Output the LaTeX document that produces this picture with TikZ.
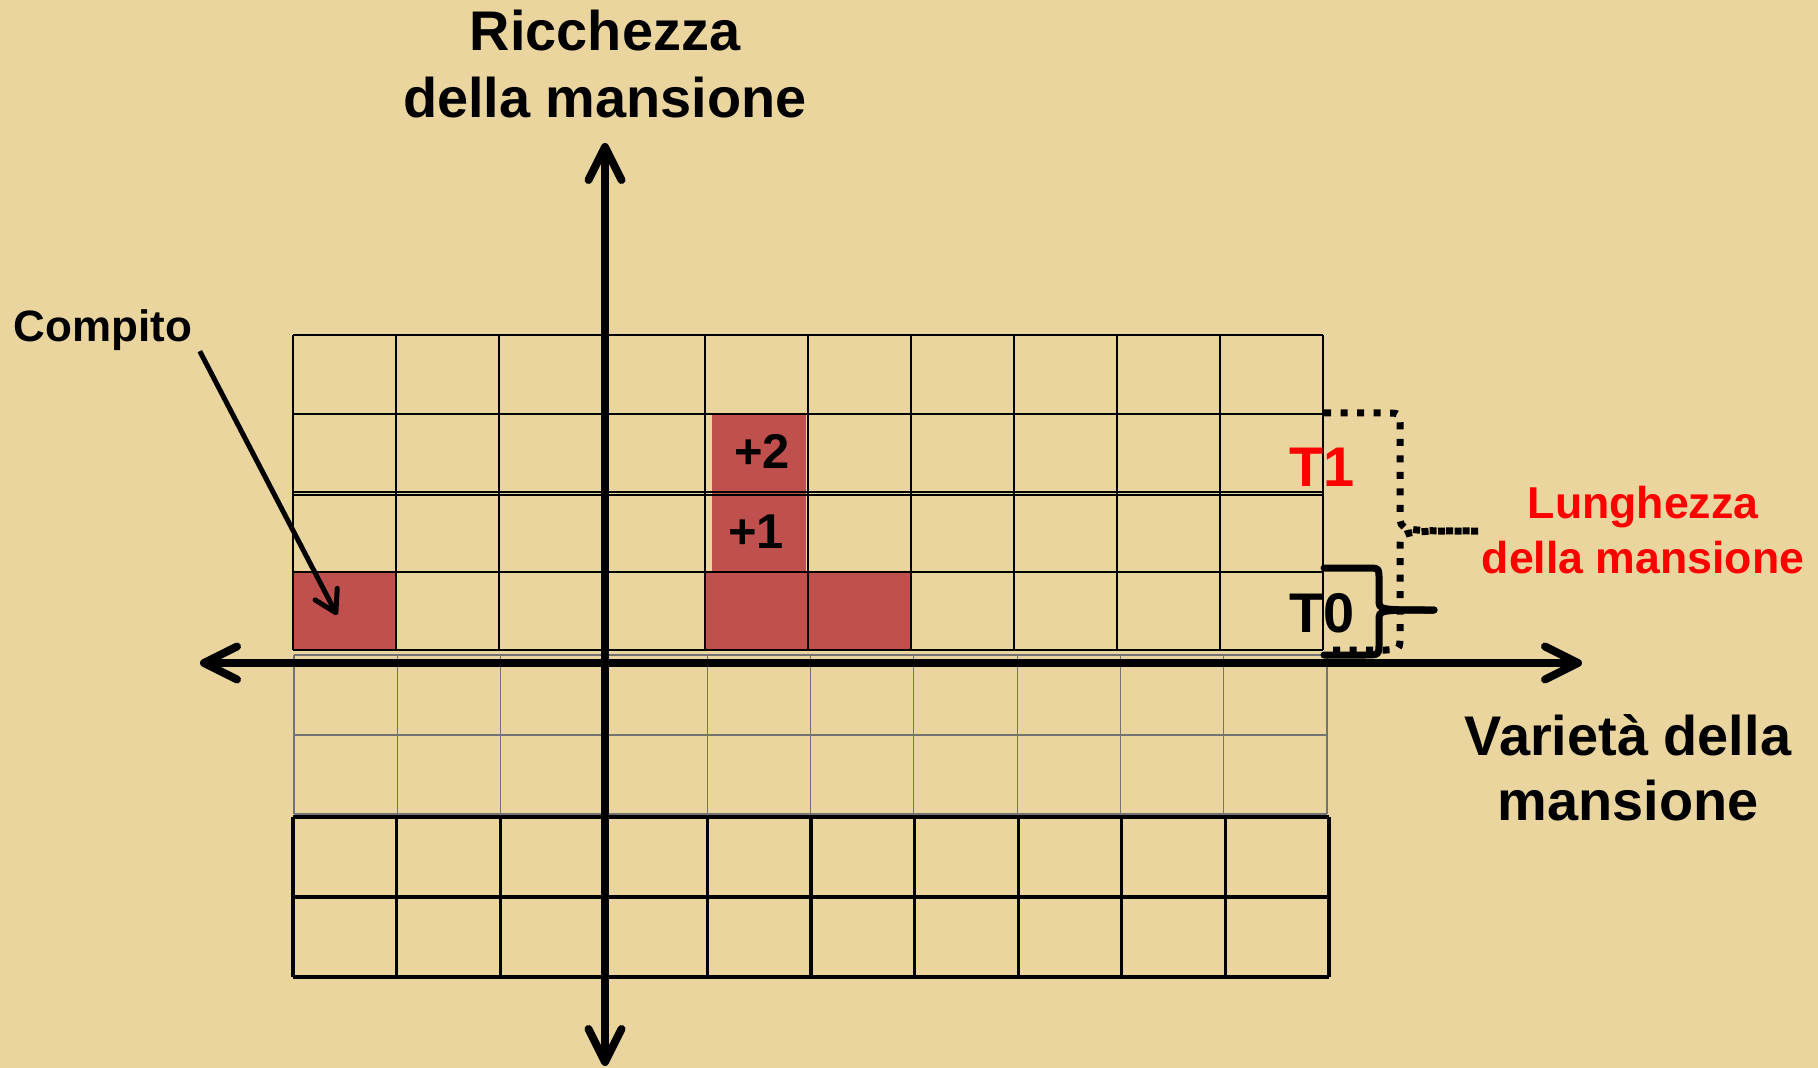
\documentclass[tikz,border=0pt]{standalone}
\usepackage{fontspec}
\setmainfont{Liberation Sans}
\usetikzlibrary{arrows.meta}

\definecolor{papyrus}{RGB}{234,213,158}
\definecolor{taskred}{RGB}{192,80,77}

\begin{document}
\begin{tikzpicture}[x=0.1mm, y=-0.1mm,
  barb/.tip={Straight Barb[length=3.3mm, width=3.3mm, round]},
  axis/.style={line width=0.8mm, barb-barb},
  gridline/.style={line width=0.27mm},
  faintline/.style={line width=0.12mm, black!55},
  lowline/.style={line width=0.32mm},
  dotbrace/.style={line width=0.7mm, dash pattern=on 0.7mm off 0.95mm},
  solidbrace/.style={line width=0.7mm, line cap=round},
  pointer/.style={line width=0.5mm, -{Straight Barb[length=2.1mm, width=2.5mm, round]}},
  bigtext/.style={inner sep=0pt, align=center, font=\bfseries\fontsize{15.9pt}{19.3pt}\selectfont},
  celltext/.style={inner sep=0pt, font=\bfseries\fontsize{13.9pt}{16pt}\selectfont}]
  \useasboundingbox (0,0) rectangle (1818,1068);
  \fill[papyrus] (0,0) rectangle (1818,1068);

  \coordinate (W) at (200,663);
  \coordinate (E) at (1582,663);
  \coordinate (N) at (605,143);
  \coordinate (S) at (605,1066);
  \coordinate (T1top) at (1324,413);
  \coordinate (T1bot) at (1324,650);
  \coordinate (T1tip) at (1478,531);
  \coordinate (T0top) at (1324,568);
  \coordinate (T0bot) at (1324,655);
  \coordinate (T0tip) at (1434,610);
  \coordinate (Ctip) at (337,615);

  % red cells
  \fill[taskred] (293,572) rectangle (396,650);
  \fill[taskred] (706,572) rectangle (911,650);
  \fill[taskred] (712,413) rectangle (806,572);

  % upper grid (two blocks)
  \foreach \i in {0,...,10}
    \draw[gridline] (293+103*\i,335) -- (293+103*\i,650);
  \foreach \j in {335,414,492,495,572,650}
    \draw[gridline] (293,\j) -- (1323,\j);
  % faint rows under the axis
  \foreach \i in {0,...,10}
    \draw[faintline] (294+103.3*\i,655) -- (294+103.3*\i,814);
  \foreach \j in {655,735,814}
    \draw[faintline] (294,\j) -- (1327,\j);
  % lower grid
  \foreach \i in {0,...,10}
    \draw[lowline] (293+103.6*\i,817) -- (293+103.6*\i,977);
  \foreach \j in {817,897,977}
    \draw[lowline] (293,\j) -- (1329,\j);

  \draw[axis] (W) -- (E);
  \draw[axis] (S) -- (N);

  % braces
  \draw[dotbrace] (T1top) -- (1386,413) .. controls (1400,413) .. (1400,427)
    -- (1400,515) .. controls (1400,531) .. (T1tip);
  \draw[dotbrace] (T1tip) .. controls (1400,531) .. (1400,547)
    -- (1400,634) .. controls (1400,650) .. (1384,650) -- (T1bot);
  \draw[solidbrace] (T0top) -- (1367,568) .. controls (1379,568) .. (1379,580)
    -- (1379,600) .. controls (1379,610) .. (T0tip);
  \draw[solidbrace] (T0tip) .. controls (1379,610) .. (1379,620)
    -- (1379,642) .. controls (1379,655) .. (1365,655) -- (T0bot);

  \node[bigtext] (ricchezza) at (605,64) {Ricchezza\\della mansione};
  \node[bigtext, font=\bfseries\fontsize{15.9pt}{18.6pt}\selectfont] (varieta) at (1628,768) {Varietà della\\mansione};
  \node[inner sep=0pt, font=\bfseries\fontsize{12.5pt}{15pt}\selectfont] (compito) at (103,330) {Compito};
  \node[inner sep=0pt, align=center, text=red, font=\bfseries\fontsize{12.7pt}{15.6pt}\selectfont] (lunghezza) at (1643,530) {Lunghezza\\della mansione};
  \node[bigtext, text=red] (t1) at (1322,467) {T1};
  \node[bigtext] (t0) at (1322,613) {T0};
  \node[celltext] (plus2) at (762,451) {+2};
  \node[celltext] (plus1) at (756,532) {+1};

  \draw[pointer] ([xshift=0.7mm]compito.south east) -- (Ctip);
\end{tikzpicture}
\end{document}
